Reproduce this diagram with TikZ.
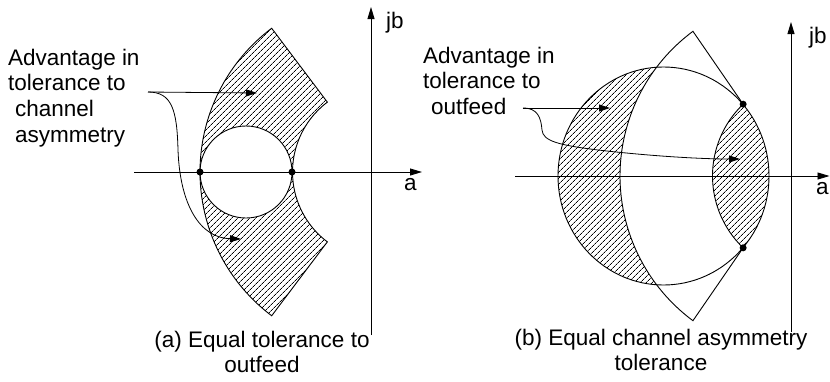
\documentclass[tikz,border=0pt]{standalone}
\usepackage{fontspec}
\setmainfont{Liberation Sans}
\usetikzlibrary{arrows.meta, calc, patterns.meta}

\begin{document}
\begin{tikzpicture}[
    x=1pt, y=-1pt,
    hatch/.style={pattern={Lines[angle=45, distance=4pt, line width=0.8pt]}},
    outline/.style={line width=0.9pt},
    axis/.style={-{Triangle[length=12pt, width=7pt]}, line width=0.9pt},
    arr/.style={-{Triangle[length=11pt, width=7pt]}, line width=0.8pt},
    dot/.style={circle, fill=black, inner sep=0pt, minimum size=7pt},
    lbl/.style={inner sep=0pt, font=\fontsize{22.5}{25.8}\selectfont},
]
\useasboundingbox (0,0) rectangle (830,381);

% (a) equal tolerance to outfeed
\coordinate (cA) at (380,172);
\coordinate (cAin) at (246,172);
\fill[hatch] ($(cA)+(127:180)$) arc[start angle=127, end angle=233, radius=180]
    -- ($(cA)+(233:87.5)$) arc[start angle=233, end angle=127, radius=87.5] -- cycle;
\fill[white] (cAin) circle[radius=46];
\draw[outline] ($(cA)+(127:180)$) arc[start angle=127, end angle=233, radius=180]
    -- ($(cA)+(233:87.5)$) arc[start angle=233, end angle=127, radius=87.5] -- cycle;
\draw[outline] (cAin) circle[radius=46];

\draw[axis] (134,172) -- (422,172);
\draw[axis] (371,335) -- (371,7);
\node[lbl, anchor=base west] (reA) at (404,190) {a};
\node[lbl, anchor=base west] (imA) at (386,28) {jb};

\node[dot] (pA1) at (200,172) {};
\node[dot] (pA2) at (292,172) {};

\node[lbl, anchor=north west, align=left] (lblA) at (8,48.6)
    {Advantage in\\tolerance to\\\hspace*{7pt}channel\\\hspace*{7pt}asymmetry};
\coordinate (srcA) at (148,92);
\coordinate (tipA1) at (257,93);
\coordinate (tipA2) at (241,239);
\draw[arr] (srcA) -- (tipA1);
\draw[arr] (srcA) .. controls (172,92) and (177,110) .. (178,150)
    .. controls (180,205) and (200,238) .. (tipA2);

\node[lbl, anchor=north, align=center] (capA) at (262,330.6)
    {(a) Equal tolerance to\\outfeed};

% (b) equal channel asymmetry tolerance
\coordinate (cB) at (800,176);
\coordinate (cBi) at (812,176);
\coordinate (cBc) at (663.5,176);
\begin{scope}
  \clip (cBc) ellipse[x radius=105.5, y radius=109];
  \fill[hatch] (cBc) ellipse[x radius=105.5, y radius=109];
  \fill[white] ($(cB)+(126.5:180)$) arc[start angle=126.5, end angle=233.5, radius=180]
      -- ($(cBi)+(226.2:99.5)$) arc[start angle=226.2, end angle=133.8, radius=99.5] -- cycle;
\end{scope}
\draw[outline] (cBc) ellipse[x radius=105.5, y radius=109];
\draw[outline] ($(cB)+(126.5:180)$) arc[start angle=126.5, end angle=233.5, radius=180]
    -- ($(cBi)+(226.2:99.5)$) arc[start angle=226.2, end angle=133.8, radius=99.5] -- cycle;

\draw[axis] (515,176) -- (829.5,176);
\draw[axis] (791,332) -- (791,22);
\node[lbl, anchor=base west] (reB) at (816,194) {a};
\node[lbl, anchor=base west] (imB) at (809,43) {jb};

\node[dot] (pB1) at ($(cBi)+(226.2:99.5)$) {};
\node[dot] (pB2) at ($(cBi)+(133.8:99.5)$) {};

\node[lbl, anchor=north west, align=left] (lblB) at (423,46.6)
    {Advantage in\\tolerance to\\\hspace*{8pt}outfeed};
\coordinate (srcB) at (523,108);
\coordinate (tipB1) at (610,108);
\coordinate (tipB2) at (740,159);
\draw[arr] (srcB) -- (tipB1);
\draw[arr] (srcB) .. controls (538,108) and (541,118) .. (542,130)
    .. controls (543,141) and (558,145) .. (598,150)
    .. controls (650,156) and (700,159) .. (tipB2);

\node[lbl, anchor=north, align=center] (capB) at (661,328.6)
    {(b) Equal channel asymmetry\\tolerance};
\end{tikzpicture}
\end{document}
